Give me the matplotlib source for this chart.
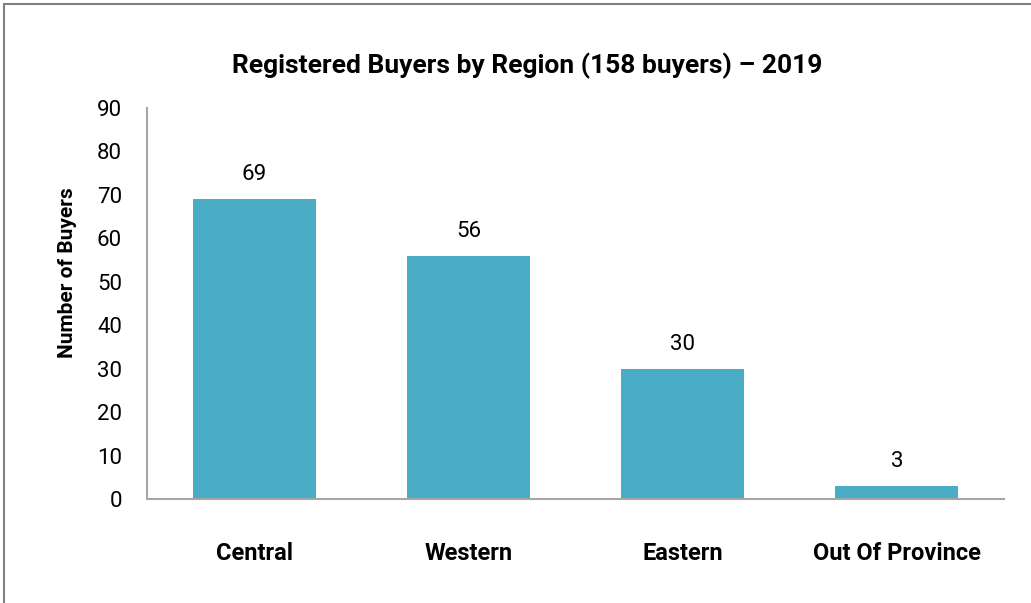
import matplotlib
matplotlib.use("Agg")
import matplotlib.pyplot as plt
from matplotlib.patches import Rectangle

regions = ["Central", "Western", "Eastern", "Out Of Province"]
buyers = [69, 56, 30, 3]
yticks = [0, 10, 20, 30, 40, 50, 60, 70, 80, 90]

plt.rcParams['font.family'] = ['Roboto', 'DejaVu Sans']

fig = plt.figure(figsize=(10.31, 6.03), dpi=100)
ax = fig.add_axes([0.1426, 0.1725, 0.8312, 0.6484])

ax.bar(range(len(regions)), buyers, width=0.575, color='#4BACC6')
for i, v in enumerate(buyers):
    ax.text(i, v + 4.4, str(v), ha='center', va='baseline', fontsize=16)

ax.set_xlim(-0.5, len(regions) - 0.5)
ax.set_ylim(0, 90)
ax.set_yticks(yticks)
ax.set_xticks(range(len(regions)))
ax.set_xticklabels(regions, fontsize=17, fontweight='bold')
ax.tick_params(axis='x', length=0, pad=31)
ax.tick_params(axis='y', length=0, pad=18, labelsize=16)

for s in ['top', 'right']:
    ax.spines[s].set_visible(False)
for s in ['left', 'bottom']:
    ax.spines[s].set_color('#A6A6A6')
    ax.spines[s].set_linewidth(1.5)

ax.set_ylabel('Number of Buyers', fontsize=15, fontweight='bold')
ax.yaxis.set_label_coords(-0.0817, 0.58)
fig.text(0.511, 0.89, 'Registered Buyers by Region (158 buyers) \u2013 2019',
         ha='center', va='center', fontsize=19, fontweight='bold')

fig.patches.append(Rectangle((4 / 1031, -0.01), 1.1, 1 - 4 / 603 + 0.01,
                             transform=fig.transFigure, fill=False,
                             edgecolor='#808080', linewidth=1.5))

fig.savefig('out.png', dpi=100)
